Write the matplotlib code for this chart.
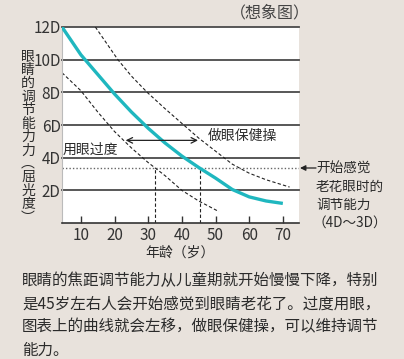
import numpy as np
import matplotlib
matplotlib.use("Agg")
import matplotlib.pyplot as plt

plt.rcParams['font.family'] = ['Noto Sans CJK SC', 'DejaVu Sans']

#   Data   #
ages_normal   = [4.4, 10, 15, 20, 25, 30, 35, 40, 45, 50, 55, 60, 65, 70]
power_normal  = [12.0, 10.3, 9.1, 7.9, 6.8, 5.8, 4.9, 4.1, 3.4, 2.75, 2.05, 1.6, 1.35, 1.2]
ages_overuse  = [4.4, 10, 15, 20, 25, 30, 35, 40, 45, 51]
power_overuse = [9.2, 8.1, 6.8, 5.6, 4.6, 3.7, 2.9, 2.0, 1.35, 0.7]
ages_exercise = [14.3, 21, 25, 29.7, 35, 40, 45, 50, 55, 60, 65, 72]
power_exercise = [12.0, 10.0, 9.0, 8.0, 7.0, 6.1, 5.2, 4.4, 3.6, 3.05, 2.65, 2.2]
presbyopia_level = 3.35
presbyopia_ages = [32, 45.5]
x_ticks = [10, 20, 30, 40, 50, 60, 70]
y_ticks = [2, 4, 6, 8, 10, 12]
y_label = "眼睛的调节能力力︵屈光度︶"
caption = ["眼睛的焦距调节能力从儿童期就开始慢慢下降，特别",
           "是45岁左右人会开始感觉到眼睛老花了。过度用眼，",
           "图表上的曲线就会左移，做眼保健操，可以维持调节",
           "能力。"]
side_note = ["开始感觉", "老花眼时的", "调节能力", "（4D～3D）"]

BG = '#e8e2dc'
TXT = '#2b2b2b'

fig = plt.figure(figsize=(4.04, 3.59), dpi=100, facecolor=BG)
ax = fig.add_axes([0.1535, 0.3788, 0.5866, 0.546])
ax.set_facecolor('white')
ax.set_xlim(4.4, 74.8)
ax.set_ylim(0, 12)

#   Grid lines  #
for y in y_ticks:
    ax.axhline(y, color='#4a4a4a', lw=1.3, zorder=1, clip_on=False)

#   Presbyopia level    #
ax.axhline(presbyopia_level, color='#666666', lw=1.0, ls=(0, (1, 1.5)), zorder=1)
for a in presbyopia_ages:
    ax.plot([a, a], [0, presbyopia_level], color='#222222', lw=0.8, ls=(0, (3, 2)), zorder=2)

#   Curves  #
ax.plot(ages_overuse, power_overuse, color='#222222', lw=0.8, ls=(0, (3, 2)), zorder=2)
ax.plot(ages_exercise, power_exercise, color='#222222', lw=0.8, ls=(0, (3, 2)), zorder=2)
ax.plot(ages_normal, power_normal, color='#1fb7bf', lw=2.4, zorder=3, solid_capstyle='butt')

#   Shift arrow and labels  #
ax.annotate('', xy=(23.3, 5.06), xytext=(44.8, 5.06),
            arrowprops=dict(arrowstyle='<->', color='#222222', lw=0.9, shrinkA=0, shrinkB=0))
ax.text(4.6, 4.5, "用眼过度", fontsize=10, color=TXT, ha='left', va='center')
ax.text(47.8, 5.35, "做眼保健操", fontsize=10, color=TXT, ha='left', va='center')

#   Axes styling    #
for side in ['top', 'right']:
    ax.spines[side].set_visible(False)
ax.spines['left'].set_color('#bbbbbb')
ax.spines['left'].set_linewidth(0.8)
ax.spines['bottom'].set_color('#333333')
ax.spines['bottom'].set_linewidth(1.2)

ax.set_xticks(x_ticks)
ax.set_xticklabels([str(t) for t in x_ticks], fontsize=11, color='#333333')
ax.tick_params(axis='x', direction='in', length=5, width=1.0, color='#333333', pad=3)
ax.set_yticks(y_ticks)
ax.set_yticklabels([str(t) + "D" for t in y_ticks], fontsize=11, color='#333333')
ax.tick_params(axis='y', length=0, pad=1)

#   Figure texts    #
fig.text(28 / 404, 1 - 137 / 359, "\n".join(y_label), fontsize=10, color=TXT,
         ha='center', va='center', linespacing=0.95)
fig.text(180 / 404, 1 - 253 / 359, "年龄（岁）", fontsize=10, color=TXT, ha='center', va='center')
fig.text(270 / 404, 1 - 13 / 359, "（想象图）", fontsize=11.5, color='#444444', ha='center', va='center')

for i, line in enumerate(side_note):
    fig.text(316 / 404 if i < 3 else 312 / 404, 1 - (169 + 18 * i) / 359, line, fontsize=9.8,
             color=TXT, ha='left', va='center')
ax.annotate('', xy=(300 / 404, 1 - 168 / 359), xytext=(316 / 404, 1 - 168 / 359),
            xycoords='figure fraction', textcoords='figure fraction',
            arrowprops=dict(arrowstyle='-|>', color='#222222', lw=0.9, mutation_scale=8,
                            shrinkA=0, shrinkB=0))

for i, line in enumerate(caption):
    fig.text(22 / 404, 1 - (281 + 23 * i) / 359, line, fontsize=11.2, color=TXT,
             ha='left', va='center')

fig.savefig("out.png", dpi=100, facecolor=BG)
